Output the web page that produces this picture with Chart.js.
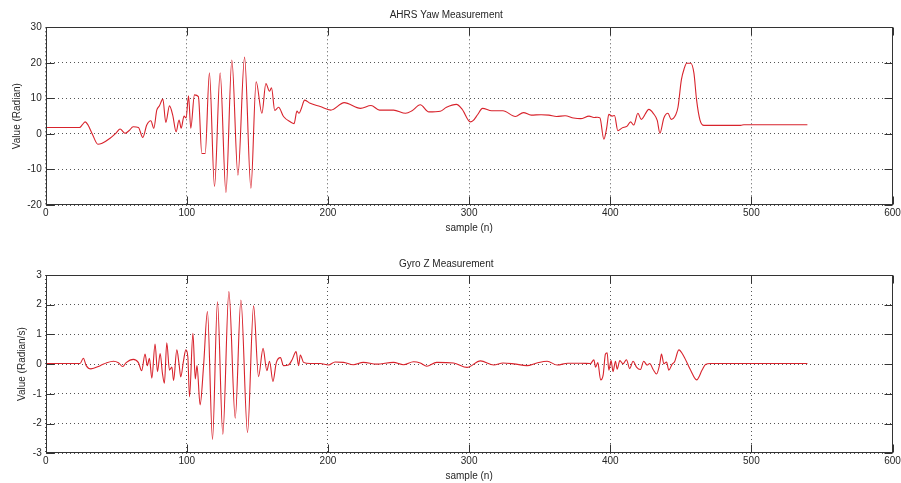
<!DOCTYPE html>
<html>
<head>
<meta charset="utf-8">
<script src="https://cdn.jsdelivr.net/npm/chart.js@4/dist/chart.umd.min.js"></script>
<style>
  html, body { margin: 0; padding: 0; background: #ffffff; }
  #wrap { position: relative; width: 901px; height: 483px; overflow: hidden; }
  canvas { position: absolute; left: 0; }
</style>
</head>
<body>
<div id="wrap">
  <canvas id="c1" width="901" height="240" style="top:0px"></canvas>
  <canvas id="c2" width="901" height="243" style="top:240px"></canvas>
</div>
<script>
// ---- data (sample index, value) ----
const yawN = [0,10,20,24,26,28,30,33,37,40,45.6,50,52.7,56.2,59,62,65.7,68.8,71.6,74.5,76.6,78.7,80.6,83,85.1,87.7,90,92.4,94.5,96,98,99.5,101.2,102.8,105.4,108.2,110.6,113,116,119.6,123.6,127.7,131.9,136.2,140.9,145.4,149.1,153.2,156,158.6,160,162.3,165,168.5,173.3,176,178,179.5,181,183.5,187.4,194.5,202,211.5,223,230.5,236.5,246.5,255,259.5,265.4,271.5,279.6,284,291,295,300.9,303,306,309.5,316,324,332.8,338.5,344,351,356.5,362,368,374,379,385,388.4,390.8,392.7,395.5,397.4,399,401.4,403,405.4,408.5,412,414.4,416.7,419.6,422,427.4,430.5,433.3,435.2,438,440.9,443.2,446.3,448,450.4,452.5,454.1,457,459.3,461.2,463.6,466.4,480,492.4,494.7,539.7];
const yawV = [1.8,1.8,1.8,1.8,2.6,3.4,2.5,0.0,-2.9,-2.6,-1.2,0.3,1.4,0.2,0.9,2.0,1.8,-1.0,2.5,3.7,1.6,6.7,7.9,9.8,3.2,7.9,5.3,0.6,3.9,1.6,5.0,4.5,10.7,1.6,11.0,10.5,-5.5,-5.5,17.2,-14.8,17.2,-16.5,20.8,-11.6,21.6,-15.3,14.7,5.8,14.2,12.0,13.0,6.6,7.5,4.9,3.4,2.9,6.4,5.8,7.0,9.5,8.6,7.7,6.7,8.8,7.2,8.0,6.7,6.7,5.8,6.5,8.2,6.2,6.4,7.5,8.3,7.0,3.4,3.8,5.4,7.2,6.5,6.5,4.9,6.0,5.3,5.4,5.3,4.9,5.1,4.5,4.3,5.0,4.6,4.7,4.5,-1.5,1.5,5.5,5.0,5.2,0.9,1.7,2.2,3.4,2.5,5.8,4.1,6.9,5.8,3.8,0.2,4.5,5.8,4.1,5.3,7.5,15.2,18.5,19.9,19.9,17.1,9.5,3.9,2.4,2.4,2.4,2.6,2.6];

const gyroN = [0,10,20,24.3,26.7,28.7,32,38.6,43.3,48,51.5,54.6,57,62.1,65.7,68,70.4,72,73.5,75.2,77.5,79.2,81.1,82.7,84.1,85.8,87.7,89.4,90.6,92.9,94.5,95.7,97.6,99.3,100.7,101.9,104.3,106,107.2,109.4,111.8,114.6,118.2,121.7,125.5,129.8,134.3,138.3,143,147.3,150.8,154,156.7,158.6,161,163.4,166.3,168.5,172,174.6,177.4,179.2,180.4,182.7,187.4,194.5,200.4,205,211,218,225,234.5,246.4,253.5,260.6,265.4,270,277,289,298.6,308,317.5,324,331.7,341,348,355.3,362.4,370,378.9,386,388.4,389.6,391.2,393.2,395,396.6,397.8,399,400.6,402,403.7,404.9,406.8,409.1,411.5,413.8,416.2,418.6,421.4,423.7,426.1,428,430.4,432.8,435.1,436.3,438,439.9,441.5,443.9,445.5,448.6,452.2,456.9,461.2,465.1,467.5,471,500,539.7];
const gyroV = [0.02,0.02,0.02,0.02,0.2,-0.05,-0.16,-0.05,0.05,0.1,0.05,-0.08,0.05,0.16,0.05,-0.22,0.34,-0.05,0.2,-0.47,0.68,-0.25,0.36,-0.3,-0.64,0.72,-0.2,-0.1,-0.55,0.48,0.0,-0.43,0.1,0.48,0.25,-1.1,1.04,-0.5,-0.05,-1.37,-0.1,1.77,-2.53,2.1,-2.36,2.44,-1.82,2.16,-2.3,1.96,-0.42,0.53,-0.22,0.1,-0.58,0.05,0.22,-0.05,-0.03,0.15,0.42,-0.05,0.31,0.06,0.02,0.02,-0.03,0.07,0.06,-0.02,0.06,0.0,0.06,-0.02,0.08,0.04,-0.07,0.06,0.04,-0.11,0.11,-0.03,0.04,0.01,-0.05,0.04,0.1,-0.03,0.03,0.03,0.02,0.15,-0.1,0.05,-0.53,-0.36,0.34,0.38,-0.2,0.12,-0.25,0.1,-0.17,0.12,0.01,0.15,-0.15,0.1,-0.1,-0.18,0.1,-0.03,0.02,-0.18,-0.33,0.01,0.34,0.01,0.07,-0.2,0.0,0.07,0.48,0.26,-0.2,-0.53,-0.2,-0.01,0.02,0.02,0.02];

const xTicks = [0,100,200,300,400,500,600];
const yawTicks = [-20,-10,0,10,20,30];
const gyroTicks = [-3,-2,-1,0,1,2,3];

const titles = ['AHRS Yaw Measurement', 'Gyro Z Measurement'];
const yTitles = ['Value (Radian)', 'Value (Radian/s)'];
const xTitle = 'sample (n)';

// ---- styling ----
const FONT = "'Liberation Sans', Arial, Helvetica, sans-serif";
const TEXT = '#262626';
const LINE = '#d8232c';
const TL = 8;

const framePlugin = {
  id: 'frame',
  afterDatasetsDraw(chart) {
    const { ctx, chartArea: a, scales } = chart;
    const x = scales.x, y = scales.y;
    const L = Math.round(a.left) + 0.5, R = Math.round(a.right) - 0.5;
    const T = Math.round(a.top) + 0.5, B = Math.round(a.bottom) - 0.5;
    ctx.save();
    ctx.strokeStyle = '#333333';
    ctx.lineWidth = 1;
    ctx.setLineDash([]);
    ctx.beginPath();
    x.ticks.forEach(t => {
      const p = Math.round(x.getPixelForValue(t.value)) + 0.5;
      ctx.moveTo(p, B); ctx.lineTo(p, B - TL);
      ctx.moveTo(p, T); ctx.lineTo(p, T + TL);
    });
    y.ticks.forEach(t => {
      const p = Math.round(y.getPixelForValue(t.value)) + 0.5;
      ctx.moveTo(L, p); ctx.lineTo(L + TL, p);
      ctx.moveTo(R, p); ctx.lineTo(R - TL, p);
    });
    ctx.stroke();
    ctx.strokeRect(L, T, R - L, B - T);
    ctx.restore();
  }
};

function makeChart(id, cfg) {
  const pts = cfg.n.map((n, i) => ({ x: n, y: cfg.v[i] }));
  return new Chart(document.getElementById(id), {
    type: 'line',
    data: {
      datasets: [{
        data: pts,
        borderColor: LINE,
        borderWidth: 1.1,
        pointRadius: 0,
        fill: false,
        cubicInterpolationMode: 'monotone',
        tension: 0.4
      }]
    },
    options: {
      responsive: false,
      animation: false,
      devicePixelRatio: 1,
      layout: { padding: { left: 0, right: 8.5, top: 0, bottom: cfg.padBottom } },
      plugins: {
        legend: { display: false },
        tooltip: { enabled: false },
        title: {
          display: true,
          text: cfg.title,
          color: TEXT,
          font: { family: FONT, size: 10, weight: 'normal', lineHeight: 1.2 },
          padding: { top: cfg.titleTop, bottom: cfg.titleBottom }
        }
      },
      scales: {
        x: {
          type: 'linear',
          min: 0, max: 600,
          afterBuildTicks: s => { s.ticks = xTicks.map(v => ({ value: v })); },
          afterFit: s => { s.height = cfg.xH; s.paddingLeft = 0; s.paddingRight = 0; },
          ticks: { color: TEXT, font: { family: FONT, size: 10 }, padding: 2, maxRotation: 0, autoSkip: false },
          grid: { color: '#555555', lineWidth: 1, drawTicks: false },
          border: { display: false, dash: [1, 3] },
          title: { display: true, text: xTitle, color: TEXT, font: { family: FONT, size: 10, lineHeight: 1.2 }, padding: { top: 0, bottom: 0 } }
        },
        y: {
          type: 'linear',
          min: cfg.ticks[0], max: cfg.ticks[cfg.ticks.length - 1],
          afterBuildTicks: s => { s.ticks = cfg.ticks.map(v => ({ value: v })); },
          afterFit: s => { s.width = 45.7; s.paddingTop = 0; s.paddingBottom = 0; },
          ticks: { color: TEXT, font: { family: FONT, size: 10 }, padding: 4, autoSkip: false },
          grid: { color: '#555555', lineWidth: 1, drawTicks: false },
          border: { display: false, dash: [1, 3] },
          title: { display: true, text: cfg.yTitle, color: TEXT, font: { family: FONT, size: 10, lineHeight: 1.2 }, padding: { top: cfg.yTitlePad, bottom: 0 } }
        }
      }
    },
    plugins: [framePlugin]
  });
}

makeChart('c1', { n: yawN, v: yawV, ticks: yawTicks, title: titles[0], yTitle: yTitles[0],
  titleTop: 9, titleBottom: 6.3, xH: 29.6, padBottom: 5.4, yTitlePad: 11 });
makeChart('c2', { n: gyroN, v: gyroV, ticks: gyroTicks, title: titles[1], yTitle: yTitles[1],
  titleTop: 18, titleBottom: 5, xH: 29.4, padBottom: 0.3, yTitlePad: 16 });
</script>
</body>
</html>
